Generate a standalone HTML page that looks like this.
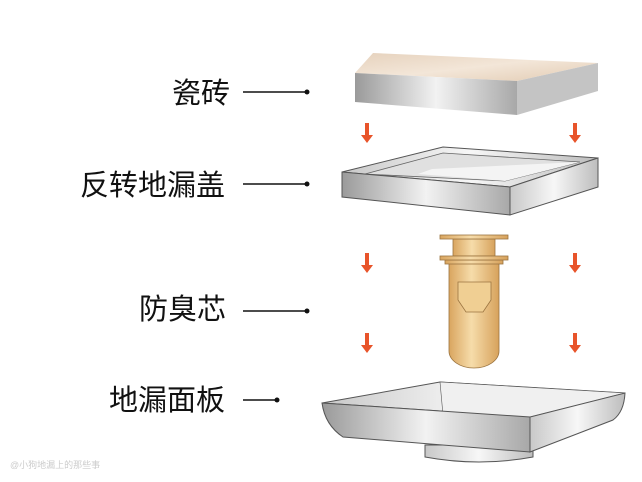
<!DOCTYPE html>
<html><head><meta charset="utf-8"><style>
html,body{margin:0;padding:0;background:#fff;}
svg{display:block}
text{font-family:"Liberation Sans","Noto Sans CJK SC",sans-serif;font-size:29px;fill:#111;}
</style></head><body>
<svg width="642" height="482" viewBox="0 0 642 482" xmlns="http://www.w3.org/2000/svg">
<defs>
<linearGradient id="mg" x1="0" x2="1" y1="0" y2="0">
<stop offset="0" stop-color="#9a9a9a"/><stop offset="0.5" stop-color="#f2f2f2"/><stop offset="1" stop-color="#a8a8a8"/></linearGradient>
<linearGradient id="mg2" x1="0" x2="1" y1="0" y2="0">
<stop offset="0" stop-color="#c8c8c8"/><stop offset="0.5" stop-color="#f7f7f7"/><stop offset="1" stop-color="#bdbdbd"/></linearGradient>
<linearGradient id="tl" x1="0" x2="1" y1="0" y2="1">
<stop offset="0" stop-color="#e6d2bd"/><stop offset="0.5" stop-color="#f3e6d8"/><stop offset="1" stop-color="#e2cbb2"/></linearGradient>
<linearGradient id="gd" x1="0" x2="1" y1="0" y2="0">
<stop offset="0" stop-color="#d9a55f"/><stop offset="0.45" stop-color="#f6dcaa"/><stop offset="1" stop-color="#d7a25c"/></linearGradient>
</defs>
<text x="172" y="103">瓷砖</text>
<text x="80" y="195">反转地漏盖</text>
<text x="139" y="319">防臭芯</text>
<text x="109" y="410">地漏面板</text>
<g stroke="#111" stroke-width="1.5">
<line x1="243" y1="92" x2="307" y2="92"/><line x1="243" y1="184" x2="307" y2="184"/>
<line x1="243" y1="311" x2="307" y2="311"/><line x1="243" y1="400" x2="277" y2="400"/></g>
<g fill="#111"><circle cx="307" cy="92" r="2.5"/><circle cx="307" cy="184" r="2.5"/><circle cx="307" cy="311" r="2.5"/><circle cx="277" cy="400" r="2.5"/></g>
<text x="10" y="468" style="font-size:9px;fill:#ccc">@小狗地漏上的那些事</text>
<g fill="#e8542a">
<path d="M365 123h4v12h4l-6 8-6-8h4z"/><path d="M573 123h4v12h4l-6 8-6-8h4z"/>
<path d="M365 253h4v12h4l-6 8-6-8h4z"/><path d="M573 253h4v12h4l-6 8-6-8h4z"/>
<path d="M365 333h4v12h4l-6 8-6-8h4z"/><path d="M573 333h4v12h4l-6 8-6-8h4z"/>
</g>
<polygon points="355,73 373,53 598,63 517,81" fill="url(#tl)"/>
<polygon points="355,73 517,81 517,115 355,102" fill="url(#mg)"/>
<polygon points="517,81 598,63 598,91 517,115" fill="#c4c4c4"/>
<polygon points="342,172 443,147 598,158 510,187" fill="url(#mg2)" stroke="#555" stroke-width="1"/>
<polygon points="365,174 443,153 580,162 505,181" fill="#e0e0e0" stroke="#666" stroke-width="0.8"/>
<polygon points="418,174 432,169 580,162 505,181" fill="#f4f4f4"/>
<polygon points="342,172 510,187 510,215 342,197" fill="url(#mg)" stroke="#555" stroke-width="1"/>
<polygon points="510,187 598,158 598,187 510,215" fill="url(#mg2)" stroke="#555" stroke-width="1"/>
<g stroke="#9b7440" stroke-width="0.8">
<path d="M449 263 h50 v88 a25 17 0 0 1 -50 0z" fill="url(#gd)"/>
<rect x="453" y="239" width="42" height="17" fill="url(#gd)"/>
<rect x="445" y="260" width="58" height="4" fill="url(#gd)"/>
<rect x="440" y="256" width="68" height="4" fill="url(#gd)"/>
<rect x="440" y="235" width="68" height="4" fill="url(#gd)"/>
<path d="M458 282h33v18l-8 12h-17l-8-12z" fill="#f0cf93"/>
</g>
<g stroke="#555" stroke-width="1">
<path d="M425 445 h108 v12 q-54 10 -108 0z" fill="url(#mg2)"/>
<polygon points="322,403 440,382 625,393 530,417" fill="url(#mg2)"/>
<polygon points="440,382 443,415 530,417 625,393" fill="#f0f0f0" stroke-width="0.6"/>
<path d="M322,403 L530,417 L530,452 L343,437 Q325,425 322,403z" fill="url(#mg)"/>
<path d="M530,417 L625,393 Q624,412 613,420 L530,452z" fill="url(#mg2)"/>
</g>
</svg>
</body></html>
